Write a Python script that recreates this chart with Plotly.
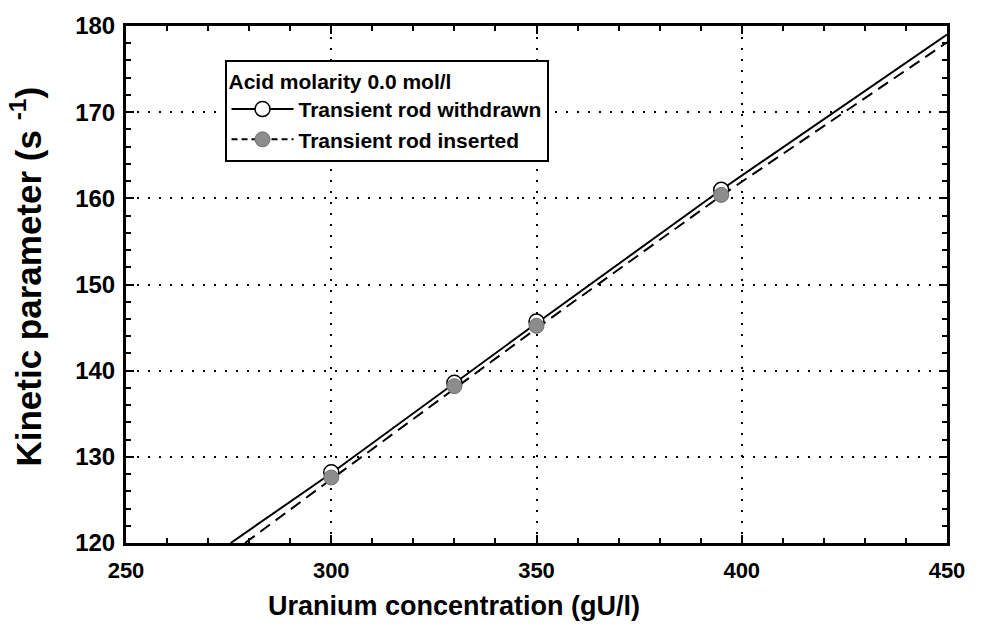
import plotly.graph_objects as go

conc_pts = [300, 330, 350, 395]
k_withdrawn = [128.2, 138.6, 145.7, 161.0]
k_inserted = [127.6, 138.2, 145.2, 160.4]

# Fitted curves
fit_w_x = [275.5, 300, 350, 395, 450]
fit_w_y = [120.0, 128.1, 145.5, 161.0, 179.0]
fit_i_x = [279.0, 300, 350, 395, 450]
fit_i_y = [120.0, 127.4, 144.9, 160.3, 178.1]

legend_title = "Acid molarity 0.0 mol/l"
name_w = "Transient rod withdrawn"
name_i = "Transient rod inserted"
x_title = "Uranium concentration (gU/l)"
y_title = "Kinetic parameter (s <sup>-1</sup>)"

FONT = "Liberation Sans, Arial, Helvetica, sans-serif"
GRAY = "#8c8c8c"

fig = go.Figure()

# fits
fig.add_trace(go.Scatter(x=fit_w_x, y=fit_w_y, mode="lines",
                         line=dict(color="black", width=2), showlegend=False))
fig.add_trace(go.Scatter(x=fit_i_x, y=fit_i_y, mode="lines",
                         line=dict(color="black", width=2, dash="12px,7px"), showlegend=False))
# points
fig.add_trace(go.Scatter(x=conc_pts, y=k_withdrawn, mode="markers",
                         marker=dict(symbol="circle", size=15, color="white",
                                     line=dict(color="black", width=1.5)),
                         showlegend=False))
fig.add_trace(go.Scatter(x=conc_pts, y=k_inserted, mode="markers",
                         marker=dict(symbol="circle", size=15, color=GRAY,
                                     line=dict(color="#707070", width=1)),
                         showlegend=False))
# legend entries
fig.add_trace(go.Scatter(x=[None], y=[None], mode="lines+markers", name=name_w,
                         line=dict(color="black", width=2),
                         marker=dict(symbol="circle", size=15, color="white",
                                     line=dict(color="black", width=1.5))))
fig.add_trace(go.Scatter(x=[None], y=[None], mode="lines+markers", name=name_i,
                         line=dict(color="black", width=2, dash="6px,4px"),
                         marker=dict(symbol="circle", size=15, color=GRAY,
                                     line=dict(color="#707070", width=1))))

axis_common = dict(
    showline=True, linecolor="black", linewidth=3, mirror="allticks",
    ticks="inside", ticklen=8, tickwidth=2, tickcolor="black",
    showgrid=True, gridcolor="black", griddash="2px,9px", gridwidth=2,
    zeroline=False,
)

fig.update_xaxes(range=[250, 450], dtick=50, tick0=250,
                 minor=dict(dtick=10, ticks="inside", ticklen=5, tickwidth=2,
                            tickcolor="black", showgrid=False),
                 tickfont=dict(family=FONT, size=22, color="black", weight="bold"),
                 ticklabelstandoff=6,
                 **axis_common)
fig.update_yaxes(range=[120, 180], dtick=10, tick0=120,
                 minor=dict(dtick=2, ticks="inside", ticklen=5, tickwidth=2,
                            tickcolor="black", showgrid=False),
                 tickfont=dict(family=FONT, size=24, color="black", weight="bold"),
                 ticklabelstandoff=3,
                 **axis_common)

fig.add_annotation(text=x_title, xref="paper", yref="paper", x=0.40, y=-0.122,
                   xanchor="center", yanchor="middle", showarrow=False,
                   font=dict(family=FONT, size=27, color="black", weight="bold"))
fig.add_annotation(text=y_title, xref="paper", yref="paper", x=-0.122, y=0.515,
                   xanchor="center", yanchor="middle", showarrow=False, textangle=-90,
                   font=dict(family=FONT, size=35, color="black", weight="bold"))

fig.update_layout(
    width=981, height=640,
    margin=dict(l=126, r=34, t=22, b=97),
    plot_bgcolor="white", paper_bgcolor="white",
    legend=dict(x=0.12, y=0.935, xanchor="left", yanchor="top",
                bgcolor="white", bordercolor="black", borderwidth=2,
                title=dict(text=legend_title,
                           font=dict(family=FONT, size=21, color="black", weight="bold")),
                font=dict(family=FONT, size=21, color="black", weight="bold"),
                itemwidth=62, tracegroupgap=0),
)

fig.write_html("out.html")
